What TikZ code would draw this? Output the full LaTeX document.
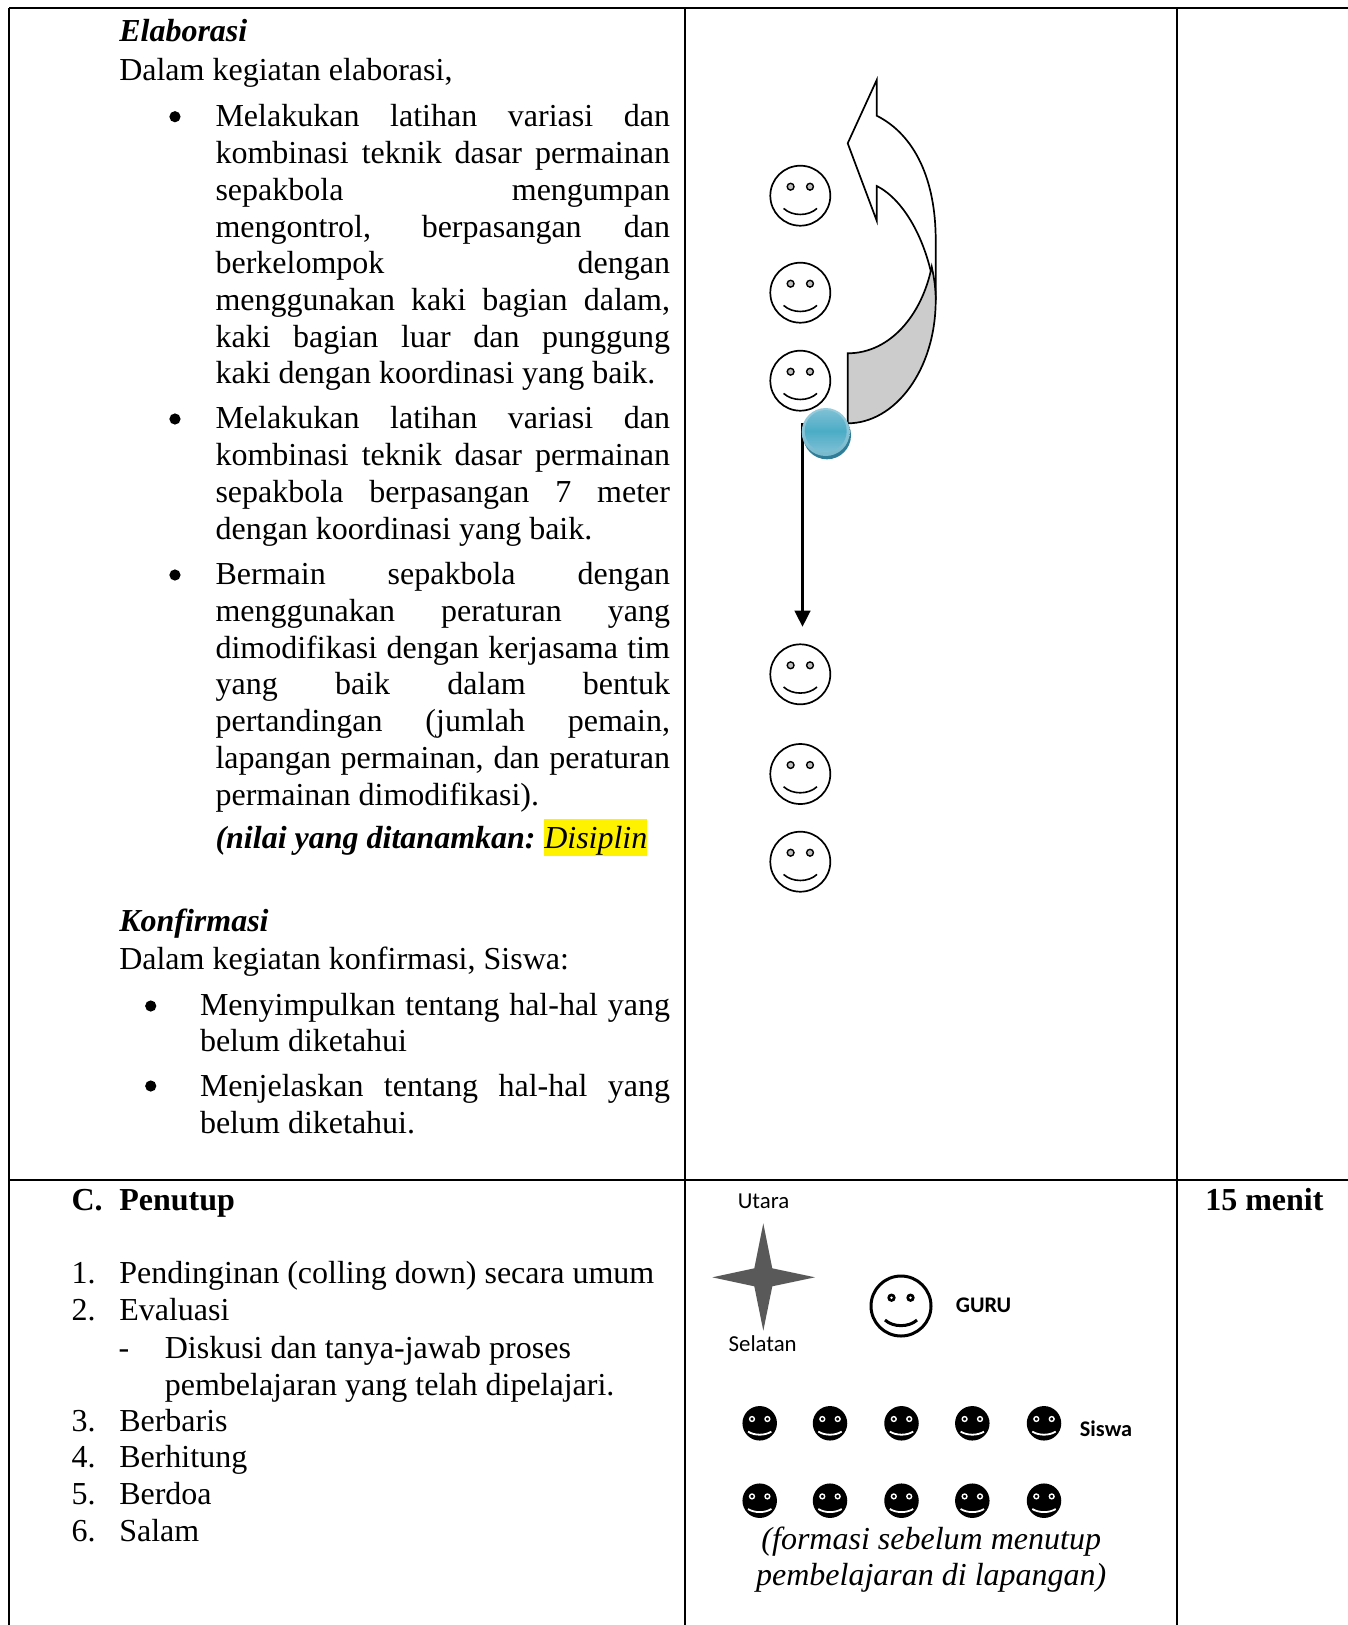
\documentclass[tikz,border=0pt]{standalone}
\usepackage{fontspec}
\setmainfont{Liberation Serif}
\newfontfamily\calfont{Carlito}
\usetikzlibrary{arrows.meta}
\newcounter{ln}
\tikzset{
 txt/.style={anchor=base west,inner sep=0pt,font=\fontsize{32}{36}\selectfont},
 frameline/.style={line width=1.8pt,black},
 wface/.style={circle,draw,line width=1.7pt,minimum size=60pt,inner sep=0pt,fill=white},
 bface/.style={circle,fill=black,minimum size=34.5pt,inner sep=0pt},
 lbl/.style={inner sep=0pt,font=\calfont\fontsize{22.8}{26}\selectfont},
 lblb/.style={inner sep=0pt,font=\calfont\bfseries\fontsize{22.3}{26}\selectfont}
}
\newcommand\tl[3]{\stepcounter{ln}\node[txt] (t\arabic{ln}) at (#1,#2) {#3};}
\newcommand\jl[4]{\stepcounter{ln}\node[txt] (t\arabic{ln}) at (#1,#2) {\makebox[#3pt][s]{#4}};}
\newcommand\ja[2]{\jl{208}{#1}{454.5}{#2}}
\newcommand\jb[2]{\jl{193}{#1}{470}{#2}}
\newcommand\bul[2]{\fill (#1,#2) circle (5.6pt);}
\newcommand\wsmiley[3]{%
 \node[wface] (#1) at (#2,#3) {};
 \begin{scope}[shift={(#2,#3)}]
 \draw[line width=1.4pt,fill=black!25] (-9.7,-9) circle (3.4) (9.7,-9) circle (3.4);
 \draw[line width=1.6pt] (-16.7,12.7) .. controls (-8,20.8) and (8,20.8) .. (16.7,12.7);
 \end{scope}}
\newcommand\bsmiley[3]{%
 \node[bface] (#1) at (#2,#3) {};
 \begin{scope}[shift={(#2,#3)}]
 \draw[white,line width=1.4pt,fill=black] (-7.7,-4.3) circle (2.4) (7.7,-4.3) circle (2.4);
 \draw[white,line width=1.8pt] (-11.7,8.3) .. controls (-5,12.4) and (5,12.4) .. (11.7,8.3);
 \end{scope}}
\begin{document}
\begin{tikzpicture}[x=1pt,y=-1pt]
\useasboundingbox (0,0) rectangle (1348,1625);
% frame
\coordinate (tl) at (9,8); \coordinate (tr) at (1348,8);
\coordinate (ml) at (9,1180); \coordinate (mr) at (1348,1180);
\coordinate (a1) at (685,8); \coordinate (a2) at (685,1625);
\coordinate (b1) at (1176.7,8); \coordinate (b2) at (1176.7,1625);
\coordinate (bl) at (9,1625);
\draw[frameline] (tl) -- (tr);
\draw[frameline] (ml) -- (mr);
\draw[frameline] (tl) -- (bl);
\draw[frameline] (a1) -- (a2);
\draw[frameline] (b1) -- (b2);
% text: x in 1.0353pt units, y in real pixels
\begin{scope}[x=1.0353pt,y=-1pt]
\tl{115}{41.7}{\textbf{\textit{Elaborasi}}}
\tl{115}{80.3}{Dalam kegiatan elaborasi,}
\bul{169}{116.7}
\ja{126.5}{Melakukan latihan variasi dan}
\ja{163.5}{kombinasi teknik dasar permainan}
\ja{200}{sepakbola mengumpan}
\ja{237}{mengontrol, berpasangan dan}
\ja{273.8}{berkelompok dengan}
\ja{310.5}{menggunakan kaki bagian dalam,}
\ja{347.2}{kaki bagian luar dan punggung}
\tl{208}{383.8}{kaki dengan koordinasi yang baik.}
\bul{169}{419}
\ja{428.7}{Melakukan latihan variasi dan}
\ja{465.4}{kombinasi teknik dasar permainan}
\ja{502.2}{sepakbola berpasangan 7 meter}
\tl{208}{539.2}{dengan koordinasi yang baik.}
\bul{169}{575}
\ja{584.5}{Bermain sepakbola dengan}
\ja{621.5}{menggunakan peraturan yang}
\ja{658.3}{dimodifikasi dengan kerjasama tim}
\ja{694.7}{yang baik dalam bentuk}
\ja{731.5}{pertandingan (jumlah pemain,}
\ja{768.5}{lapangan permainan, dan peraturan}
\tl{208}{805.3}{permainan dimodifikasi).}
\fill[yellow] (525.5,819) rectangle (625,856);
\tl{208}{848.8}{\textbf{\textit{(nilai yang ditanamkan:}}}
\tl{525.5}{848.8}{\textit{Disiplin}}
\tl{115}{931.7}{\textbf{\textit{Konfirmasi}}}
\tl{115}{969.3}{Dalam kegiatan konfirmasi, Siswa:}
\bul{145.6}{1006}
\jb{1015.5}{Menyimpulkan tentang hal-hal yang}
\tl{193}{1051.7}{belum diketahui}
\bul{145.6}{1086}
\jb{1096.7}{Menjelaskan tentang hal-hal yang}
\tl{193}{1133.3}{belum diketahui.}
\tl{69}{1210}{\textbf{C.}}
\tl{115}{1210}{\textbf{Penutup}}
\tl{69}{1283.7}{1.}\tl{115}{1283.7}{Pendinginan (colling down) secara umum}
\tl{69}{1320.5}{2.}\tl{115}{1320.5}{Evaluasi}
\tl{114.5}{1358.2}{-}\tl{159}{1358.2}{Diskusi dan tanya-jawab proses}
\tl{159}{1395}{pembelajaran yang telah dipelajari.}
\tl{69}{1431.7}{3.}\tl{115}{1431.7}{Berbaris}
\tl{69}{1467.7}{4.}\tl{115}{1467.7}{Berhitung}
\tl{69}{1504.3}{5.}\tl{115}{1504.3}{Berdoa}
\tl{69}{1541.7}{6.}\tl{115}{1541.7}{Salam}
\tl{1164}{1210}{\textbf{15 menit}}
\node[txt,anchor=base] (cap1) at (899.5,1549) {\textit{(formasi sebelum menutup}};
\node[txt,anchor=base] (cap2) at (899.5,1585.5) {\textit{pembelajaran di lapangan)}};
\end{scope}
% curved arrow
\draw[line width=1.7pt,fill=white,line join=miter]
 (876.7,80) -- (847.7,143.3) -- (876.7,220.7) -- (876.7,186)
 .. controls (905,200) and (930,245) .. (935.7,300)
 -- (935.7,240)
 .. controls (935.7,180) and (915,135) .. (876.7,115.7) -- cycle;
\draw[line width=1.7pt,fill=black!20,line join=miter]
 (847.7,423.3) -- (847.7,353.3)
 .. controls (890,353.3) and (922,315) .. (931.7,266.7)
 .. controls (934,277) and (935.7,288) .. (935.7,300)
 .. controls (935.7,370) and (895,423.3) .. (847.7,423.3) -- cycle;
% white faces
\wsmiley{f1}{800.3}{195.7}
\wsmiley{f2}{800.3}{292.7}
\wsmiley{f3}{800.3}{380.7}
\wsmiley{f4}{800.3}{674.3}
\wsmiley{f5}{800.3}{774}
\wsmiley{f6}{800.3}{861.7}
% pass line
\coordinate (p1) at (802.5,423);
\coordinate (p2) at (802.5,626.7);
\draw[line width=2.2pt,-{Triangle[length=16pt,width=15.7pt]}] (p1) -- (p2);
% ball
\fill[color={rgb,255:red,47;green,125;blue,150}] (827,435.3) circle (24);
\shade[top color={rgb,255:red,150;green,205;blue,222},bottom color={rgb,255:red,120;green,185;blue,205}] (825.7,432) circle (24);
\shade[top color={rgb,255:red,125;green,192;blue,212},bottom color={rgb,255:red,125;green,192;blue,212},middle color={rgb,255:red,75;green,172;blue,198}] (825.7,431) circle (21);
% compass
\node[lbl] (utara) at (763.5,1201.7) {Utara};
\fill[color={rgb,255:red,89;green,89;blue,89}] (763.3,1223.3) -- (772.3,1268.3) -- (815,1277.3) -- (772.3,1286.3) -- (763.3,1330.7) -- (754.3,1286.3) -- (712.3,1277.3) -- (754.3,1268.3) -- cycle;
\node[lbl] (selatan) at (762.7,1344) {Selatan};
% guru
\node[circle,draw,line width=3pt,minimum size=60pt,inner sep=0pt] (guru) at (901,1306) {};
\begin{scope}[shift={(901,1306)}]
\fill (-9.5,-8.3) circle (4.2) (9.5,-8.3) circle (4.2);
\fill[white] (-9.5,-8.3) circle (1.3) (9.5,-8.3) circle (1.3);
\draw[line width=3pt] (-16,14) .. controls (-8,21.5) and (8,21.5) .. (16,14);
\end{scope}
\node[lblb] (gurul) at (983.5,1305) {GURU};
\node[lblb] (siswa) at (1106,1429) {Siswa};
% students
\bsmiley{s1}{759.7}{1423.3}
\bsmiley{s2}{830}{1423.3}
\bsmiley{s3}{901.5}{1423.3}
\bsmiley{s4}{972.3}{1423.3}
\bsmiley{s5}{1044}{1423.3}
\bsmiley{s6}{759.7}{1500.7}
\bsmiley{s7}{830}{1500.7}
\bsmiley{s8}{901.5}{1500.7}
\bsmiley{s9}{972.3}{1500.7}
\bsmiley{s10}{1044}{1500.7}
\end{tikzpicture}
\end{document}
